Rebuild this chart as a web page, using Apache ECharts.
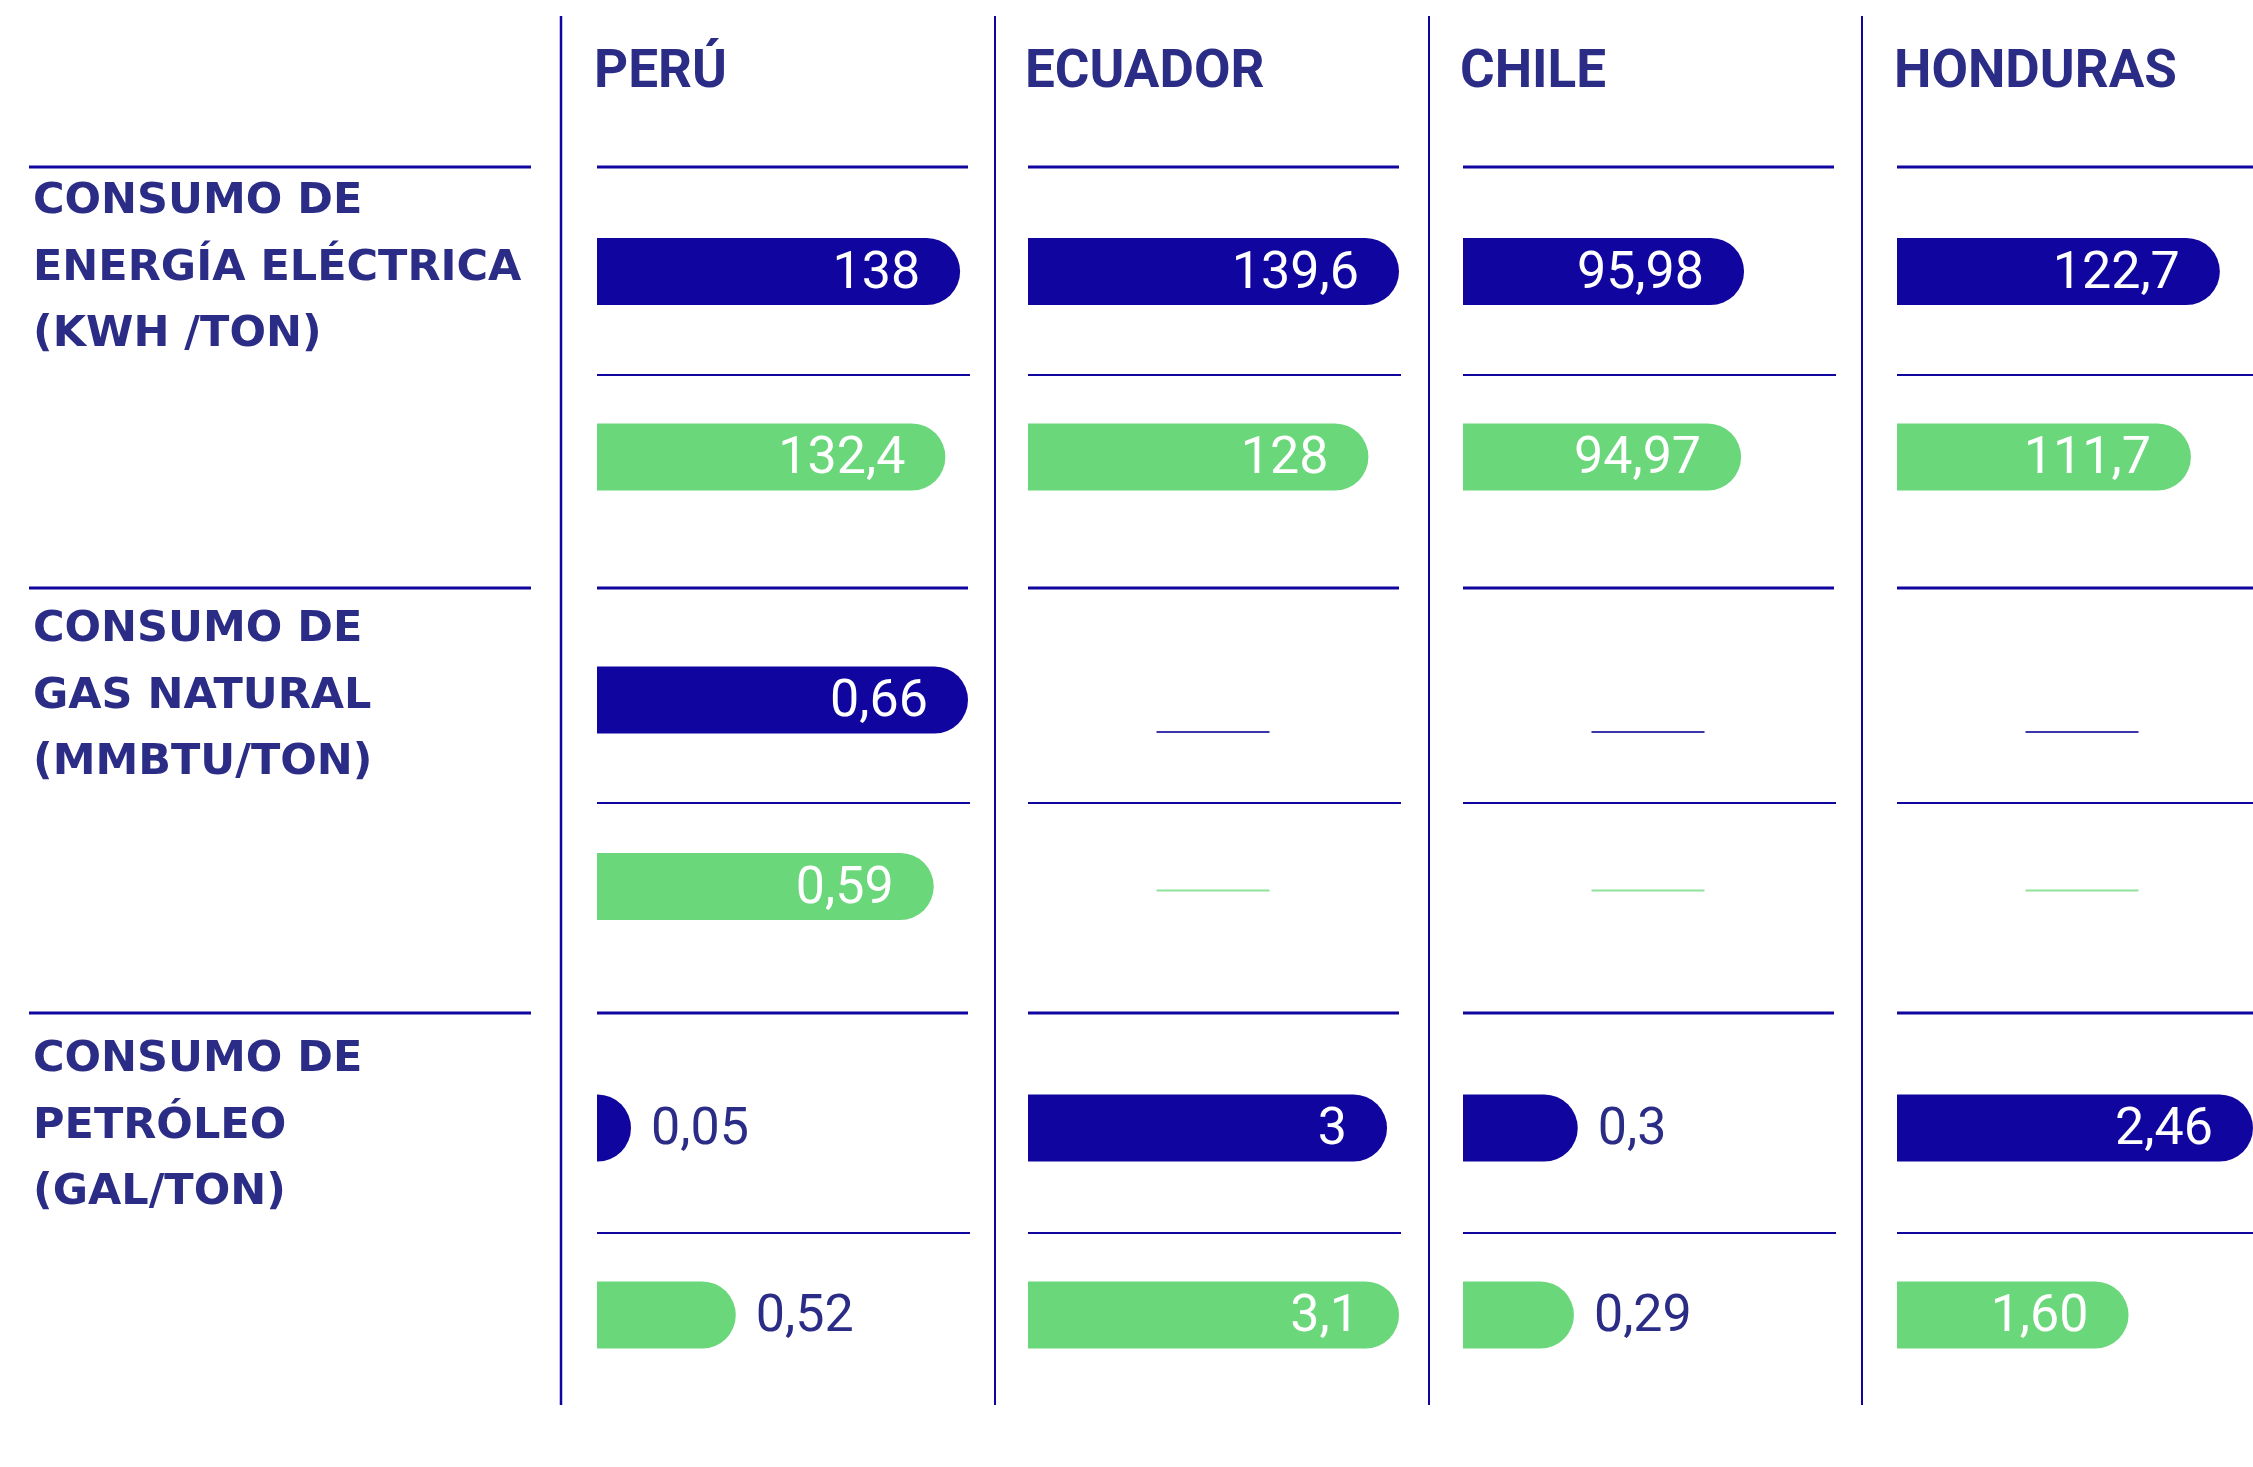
<!DOCTYPE html>
<html>
<head>
<meta charset="utf-8">
<script src="https://cdn.jsdelivr.net/npm/echarts@6/dist/echarts.min.js"></script>
<style>
  html, body { margin: 0; padding: 0; background: #ffffff; }
  #chart { width: 2253px; height: 1467px; }
</style>
</head>
<body>
<div id="chart"></div>
<script>
// Countries (column headers)
const countries = ['PERÚ', 'ECUADOR', 'CHILE', 'HONDURAS'];

// Indicator titles (row headers)
const indicators = [
  'CONSUMO DE\nENERGÍA ELÉCTRICA\n(KWH /TON)',
  'CONSUMO DE\nGAS NATURAL\n(MMBTU/TON)',
  'CONSUMO DE\nPETRÓLEO\n(GAL/TON)'
];

// Values as printed (Spanish decimal comma); null = no data
const elecBlue  = ['138', '139,6', '95,98', '122,7'];
const elecGreen = ['132,4', '128', '94,97', '111,7'];
const gasBlue   = ['0,66', null, null, null];
const gasGreen  = ['0,59', null, null, null];
const petBlue   = ['0,05', '3', '0,3', '2,46'];
const petGreen  = ['0,52', '3,1', '0,29', '1,60'];

// Scale maximum of each small bar panel, per country
const elecMax = [141, 139.5, 126.7, 135.3];
const gasMax  = [0.65, 0.65, 0.65, 0.65];
const petMax  = [1.39, 3.1, 0.97, 2.46];

const BLUE = '#10069F';
const GREEN = '#69D77A';
const NAVY = '#2B2C86';
const RULE = '#10069F';

const parseEs = s => (s == null ? null : parseFloat(s.replace(',', '.')));

const blocks = [
  { blue: elecBlue, green: elecGreen, max: elecMax },
  { blue: gasBlue,  green: gasGreen,  max: gasMax },
  { blue: petBlue,  green: petGreen,  max: petMax }
];

// Table geometry
const colLeft = [597, 1028, 1463, 1897];
const colWidth = [371, 371, 371, 356];   // last column runs into the page edge
const ruleWidth = 371;
const thickRules = [167, 588, 1013];
const thinRules = [375, 803, 1233];
const gridTop = [178.75, 606.75, 1034.5];
const gridHeight = [371, 373, 374];
const titleCenter = [202, 630, 1060];
const separators = [561, 995, 1429, 1862];

const grids = [], xAxes = [], yAxes = [], series = [];

function barItem(str, max, color) {
  const v = parseEs(str);
  if (v == null) return { value: '-', label: { show: false } };
  const inside = v / max >= 0.5;
  return {
    value: v,
    itemStyle: { color: color, borderRadius: [0, 33.5, 33.5, 0] },
    label: {
      show: true,
      position: inside ? 'insideRight' : 'right',
      distance: inside ? 40 : 20,
      offset: [0, 3],
      color: inside ? '#ffffff' : NAVY,
      fontFamily: 'Roboto',
      fontWeight: 400,
      fontSize: 52,
      formatter: () => str
    }
  };
}

blocks.forEach((b, m) => {
  countries.forEach((c, k) => {
    const g = grids.length;
    const max = b.max[k];
    grids.push({ left: colLeft[k], top: gridTop[m], width: colWidth[k], height: gridHeight[m], containLabel: false });
    xAxes.push({ gridIndex: g, type: 'value', min: 0, max: max, show: false });
    yAxes.push({ gridIndex: g, type: 'category', data: ['a', 'b'], inverse: true, show: false });
    series.push({
      type: 'bar',
      xAxisIndex: g,
      yAxisIndex: g,
      barWidth: 67,
      barMinHeight: 34,
      silent: true,
      data: [barItem(b.blue[k], max, BLUE), barItem(b.green[k], max, GREEN)]
    });
    // short dash, centred in the column, where a value is not available
    const missing = [];
    if (b.blue[k] == null) missing.push([0, 0]);
    if (b.green[k] == null) missing.push([0, 1]);
    if (missing.length) {
      series.push({
        type: 'custom',
        xAxisIndex: g,
        yAxisIndex: g,
        silent: true,
        data: missing,
        renderItem: (params, api) => {
          const idx = api.value(1);
          const p = api.coord([0, idx]);
          const cx = p[0] + ruleWidth / 2;
          const y = p[1] + (idx === 0 ? 32 : 4);
          return {
            type: 'line',
            shape: { x1: cx - 57, y1: y, x2: cx + 56, y2: y },
            style: { stroke: idx === 0 ? '#3B36A8' : '#8FE29B', lineWidth: 2 }
          };
        }
      });
    }
  });
});

// Rules, separators and headings
const graphic = [];
separators.forEach((x, i) => {
  graphic.push({ type: 'line', silent: true, shape: { x1: x, y1: 16, x2: x, y2: 1405 },
    style: { stroke: RULE, lineWidth: i === 0 ? 2.5 : 2 } });
});
thickRules.forEach(y => {
  graphic.push({ type: 'line', silent: true, shape: { x1: 29, y1: y, x2: 531, y2: y },
    style: { stroke: RULE, lineWidth: 3 } });
  colLeft.forEach(x => {
    graphic.push({ type: 'line', silent: true, shape: { x1: x, y1: y, x2: x + ruleWidth, y2: y },
      style: { stroke: RULE, lineWidth: 3 } });
  });
});
thinRules.forEach(y => {
  colLeft.forEach(x => {
    graphic.push({ type: 'line', silent: true, shape: { x1: x, y1: y, x2: x + ruleWidth + 2, y2: y },
      style: { stroke: RULE, lineWidth: 1.8 } });
  });
});
countries.forEach((name, k) => {
  graphic.push({ type: 'text', silent: true, x: colLeft[k] - 3, y: 74,
    style: { text: name, fill: NAVY, fontFamily: 'Roboto', fontWeight: 'bold', fontSize: 53,
      textAlign: 'left', textVerticalAlign: 'middle' } });
});
indicators.forEach((t, m) => {
  graphic.push({ type: 'text', silent: true, x: 33, y: titleCenter[m] - 33,
    style: { text: t, fill: NAVY, fontFamily: 'DejaVu Sans', fontWeight: 'bold', fontSize: 43,
      lineHeight: 66.5, textAlign: 'left', textVerticalAlign: 'top' } });
});

const chart = echarts.init(document.getElementById('chart'), null, { renderer: 'canvas' });
chart.setOption({
  animation: false,
  backgroundColor: '#ffffff',
  grid: grids,
  xAxis: xAxes,
  yAxis: yAxes,
  series: series,
  graphic: graphic
});
</script>
</body>
</html>
